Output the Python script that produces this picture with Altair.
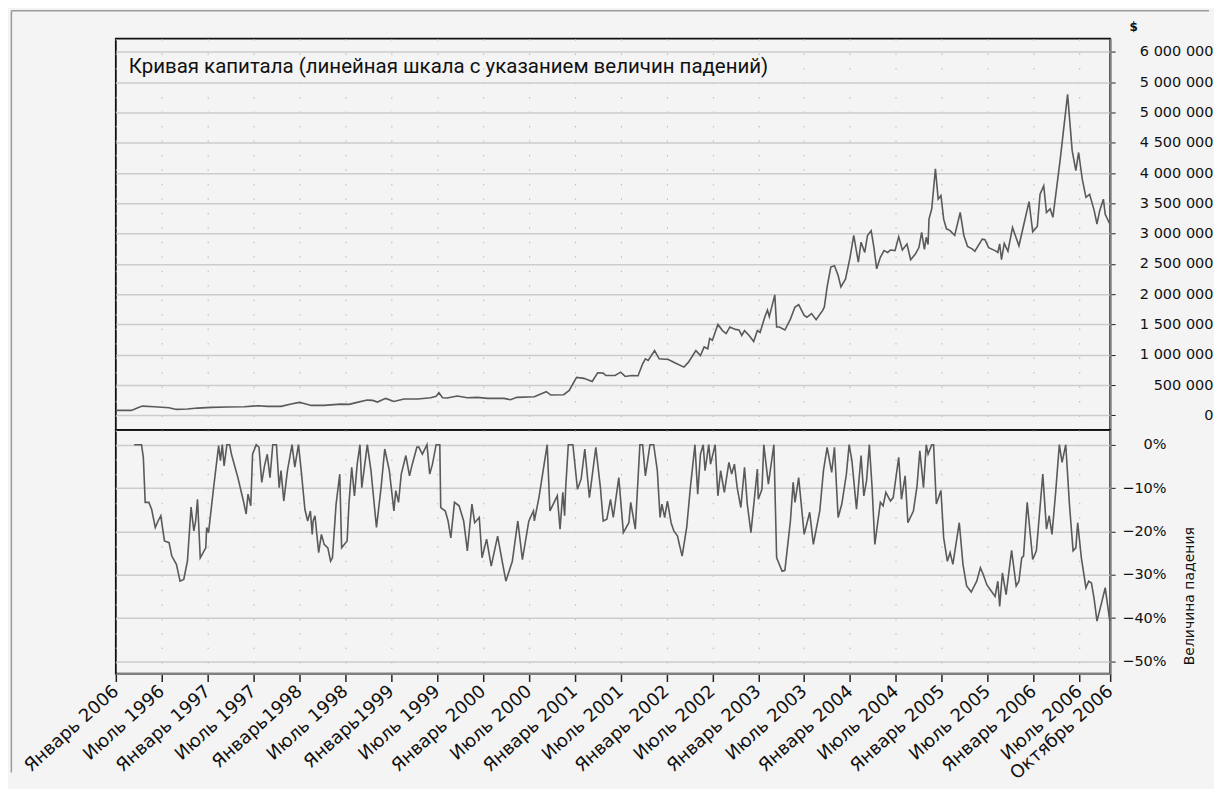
import json
import altair as alt
import pandas as pd

TITLE = "Кривая капитала (линейная шкала с указанием величин падений)"

# Equity curve: decimal year, value in $
eq_year = [1996.00, 1996.17, 1996.24, 1996.29, 1996.42, 1996.58, 1996.66, 1996.78, 1996.89, 1997.04,
           1997.22, 1997.40, 1997.55, 1997.65, 1997.80, 1997.91, 1998.00, 1998.05, 1998.13, 1998.27,
           1998.45, 1998.54, 1998.63, 1998.74, 1998.80, 1998.85, 1998.94, 1999.03, 1999.14, 1999.29,
           1999.43, 1999.49, 1999.52, 1999.56, 1999.61, 1999.72, 1999.83, 1999.94, 2000.05, 2000.23,
           2000.30, 2000.37, 2000.56, 2000.63, 2000.69, 2000.74, 2000.88, 2000.94, 2001.02, 2001.10,
           2001.19, 2001.25, 2001.31, 2001.34, 2001.44, 2001.50, 2001.55, 2001.62, 2001.69, 2001.74,
           2001.77, 2001.80, 2001.87, 2001.92, 2002.02, 2002.09, 2002.19, 2002.24, 2002.32, 2002.37,
           2002.41, 2002.45, 2002.47, 2002.50, 2002.56, 2002.61, 2002.65, 2002.69, 2002.75, 2002.79,
           2002.82, 2002.85, 2002.90, 2002.95, 2002.99, 2003.02, 2003.07, 2003.10, 2003.12, 2003.18,
           2003.20, 2003.23, 2003.29, 2003.35, 2003.40, 2003.44, 2003.50, 2003.53, 2003.58, 2003.63,
           2003.70, 2003.72, 2003.75, 2003.79, 2003.83, 2003.87, 2003.90, 2003.95, 2004.00, 2004.04,
           2004.09, 2004.12, 2004.16, 2004.19, 2004.23, 2004.26, 2004.29, 2004.33, 2004.37, 2004.41,
           2004.44, 2004.49, 2004.53, 2004.57, 2004.62, 2004.66, 2004.71, 2004.75, 2004.78, 2004.81,
           2004.83, 2004.85, 2004.86, 2004.89, 2004.93, 2004.96, 2004.99, 2005.02, 2005.05, 2005.09,
           2005.14, 2005.20, 2005.24, 2005.28, 2005.33, 2005.36, 2005.44, 2005.47, 2005.51, 2005.58,
           2005.61, 2005.63, 2005.65, 2005.68, 2005.72, 2005.77, 2005.84, 2005.89, 2005.95, 2005.99,
           2006.04, 2006.07, 2006.11, 2006.14, 2006.18, 2006.21, 2006.29, 2006.37, 2006.42, 2006.46,
           2006.49, 2006.53, 2006.57, 2006.61, 2006.66, 2006.69, 2006.72, 2006.76, 2006.78, 2006.83]
eq_value = [83000, 83000, 127000, 154000, 143000, 127000, 99000, 105000, 121000, 132000,
            138000, 143000, 160000, 149000, 149000, 187000, 215000, 198000, 165000, 165000,
            187000, 182000, 215000, 253000, 248000, 220000, 281000, 231000, 270000, 270000,
            292000, 314000, 375000, 292000, 287000, 320000, 292000, 298000, 281000, 281000,
            259000, 298000, 309000, 353000, 391000, 336000, 342000, 413000, 628000, 612000,
            560000, 703000, 698000, 659000, 659000, 714000, 643000, 659000, 654000, 852000,
            934000, 907000, 1070000, 934000, 923000, 868000, 797000, 879000, 1070000, 989000,
            1130000, 1100000, 1270000, 1240000, 1500000, 1400000, 1350000, 1460000, 1420000, 1410000,
            1320000, 1400000, 1320000, 1220000, 1400000, 1370000, 1620000, 1740000, 1630000, 1990000,
            1460000, 1460000, 1410000, 1590000, 1790000, 1830000, 1650000, 1620000, 1680000, 1580000,
            1730000, 1790000, 2120000, 2450000, 2470000, 2310000, 2120000, 2250000, 2610000, 2970000,
            2530000, 2860000, 2690000, 2970000, 3050000, 2770000, 2420000, 2610000, 2720000, 2690000,
            2730000, 2720000, 2950000, 2730000, 2830000, 2570000, 2660000, 2770000, 3020000, 2740000,
            2940000, 2820000, 3240000, 3410000, 4070000, 3570000, 3630000, 3240000, 3080000, 3050000,
            2970000, 3350000, 2970000, 2790000, 2750000, 2710000, 2910000, 2900000, 2770000, 2720000,
            2690000, 2830000, 2570000, 2840000, 2710000, 3100000, 2800000, 3130000, 3530000, 3030000,
            3120000, 3650000, 3790000, 3350000, 3410000, 3270000, 4230000, 5300000, 4370000, 4040000,
            4340000, 3900000, 3600000, 3650000, 3380000, 3160000, 3380000, 3570000, 3320000, 3160000]

# Drawdown: decimal year, percent
dd_year = [1996.20, 1996.28, 1996.30, 1996.32, 1996.36, 1996.39, 1996.43, 1996.46, 1996.49, 1996.53,
           1996.58, 1996.61, 1996.66, 1996.70, 1996.74, 1996.78, 1996.82, 1996.85, 1996.87, 1996.89,
           1996.92, 1996.98, 1996.99, 1997.01, 1997.07, 1997.12, 1997.14, 1997.16, 1997.18, 1997.21,
           1997.24, 1997.26, 1997.33, 1997.39, 1997.42, 1997.44, 1997.47, 1997.49, 1997.53, 1997.56,
           1997.59, 1997.62, 1997.65, 1997.68, 1997.71, 1997.75, 1997.78, 1997.80, 1997.83, 1997.87,
           1997.92, 1997.95, 1997.99, 1998.02, 1998.06, 1998.09, 1998.12, 1998.14, 1998.15, 1998.17,
           1998.21, 1998.24, 1998.27, 1998.31, 1998.34, 1998.36, 1998.40, 1998.44, 1998.46, 1998.52,
           1998.54, 1998.57, 1998.60, 1998.63, 1998.66, 1998.68, 1998.74, 1998.78, 1998.84, 1998.89,
           1998.93, 1998.98, 1999.03, 1999.05, 1999.08, 1999.11, 1999.16, 1999.20, 1999.23, 1999.28,
           1999.30, 1999.34, 1999.39, 1999.42, 1999.45, 1999.49, 1999.53, 1999.54, 1999.59, 1999.62,
           1999.65, 1999.69, 1999.74, 1999.79, 1999.83, 1999.88, 1999.91, 1999.96, 1999.99, 2000.04,
           2000.09, 2000.16, 2000.21, 2000.25, 2000.32, 2000.38, 2000.43, 2000.50, 2000.55, 2000.56,
           2000.61, 2000.70, 2000.73, 2000.81, 2000.84, 2000.87, 2000.89, 2000.90, 2000.93, 2000.98,
           2001.03, 2001.07, 2001.11, 2001.16, 2001.23, 2001.28, 2001.31, 2001.35, 2001.39, 2001.42,
           2001.48, 2001.53, 2001.59, 2001.61, 2001.66, 2001.71, 2001.74, 2001.77, 2001.82, 2001.86,
           2001.90, 2001.93, 2001.95, 2001.98, 2002.01, 2002.05, 2002.08, 2002.12, 2002.14, 2002.17,
           2002.22, 2002.26, 2002.31, 2002.34, 2002.37, 2002.40, 2002.42, 2002.46, 2002.48, 2002.53,
           2002.56, 2002.59, 2002.63, 2002.68, 2002.71, 2002.74, 2002.77, 2002.81, 2002.85, 2002.88,
           2002.92, 2002.99, 2003.00, 2003.04, 2003.06, 2003.11, 2003.17, 2003.20, 2003.26, 2003.29,
           2003.35, 2003.38, 2003.40, 2003.44, 2003.50, 2003.56, 2003.60, 2003.67, 2003.71, 2003.75,
           2003.80, 2003.83, 2003.87, 2003.91, 2003.96, 2003.99, 2004.02, 2004.07, 2004.12, 2004.15,
           2004.18, 2004.21, 2004.24, 2004.27, 2004.33, 2004.36, 2004.39, 2004.44, 2004.47, 2004.53,
           2004.56, 2004.60, 2004.63, 2004.69, 2004.73, 2004.76, 2004.80, 2004.83, 2004.85, 2004.89,
           2004.91, 2004.94, 2004.99, 2005.02, 2005.06, 2005.09, 2005.12, 2005.19, 2005.23, 2005.27,
           2005.32, 2005.38, 2005.42, 2005.45, 2005.49, 2005.54, 2005.58, 2005.61, 2005.63, 2005.66,
           2005.70, 2005.76, 2005.81, 2005.84, 2005.87, 2005.89, 2005.93, 2005.99, 2006.03, 2006.10,
           2006.14, 2006.17, 2006.20, 2006.24, 2006.28, 2006.31, 2006.35, 2006.39, 2006.43, 2006.46,
           2006.48, 2006.52, 2006.57, 2006.60, 2006.63, 2006.66, 2006.69, 2006.74, 2006.78, 2006.83]
dd_pct = [0, 0, -3, -13.3, -13.3, -14.9, -19.1, -17.6, -16.4, -22.2,
          -22.6, -25.7, -27.6, -31.5, -31.1, -26.9, -14.4, -19.9, -17.6, -12.6,
          -26.1, -23.8, -19.1, -20.3, -9.1, -0.2, -3.7, 0, -4.9, 0,
          0, -2.2, -7.6, -13, -16, -11.4, -14.1, -2.2, 0, -0.6,
          -8.7, -4.9, -2.2, -7.6, 0, 0, -9.9, -6, -13, -6,
          0, -5.2, 0, -6, -14.9, -17.6, -15.3, -20.7, -17.6, -16.4,
          -24.9, -20.7, -23, -23.8, -26.9, -26.1, -13.7, -6.8, -23.8, -22.2,
          -13.7, -5.2, -11.8, -4.5, 0, -9.9, 0, -6, -19.1, -9.9,
          -1, -6, -15.3, -10.6, -13.3, -6.8, -2.5, -7.2, -4.5, -0.6,
          -0.5, -2.2, 0, -6.8, -4.5, 0, 0, -14.5, -15.3, -17.6,
          -21.5, -13.3, -14.1, -17.6, -24.5, -13.7, -18, -16.8, -26.1, -21.8,
          -28, -21.1, -26.9, -31.5, -26.9, -17.6, -26.5, -17.6, -15.3, -17.6,
          -12.2, 0, -15.3, -11.8, -19.5, -11, -16.4, -10.6, 0, 0,
          -10.3, -7.9, -1, -12.2, -0.6, -9.9, -17.6, -17.2, -12.6, -16.8,
          -7.6, -20.3, -18, -13.3, -19.5, 0, 0, -7.2, 0, 0,
          -6, -16.8, -13.7, -16.8, -13, -18, -19.9, -21.1, -23, -25.7,
          -19.1, -9.9, 0, -11.4, -2.2, 0, -6, 0, -4.5, 0,
          -11.8, -6, -11, -4.1, -6.8, -4.5, -9.9, -14.5, -5.2, -13.7,
          -20.3, -5.6, -12.6, -10.3, 0, -9.1, 0, -26.1, -29.2, -29,
          -17.6, -8.7, -13.3, -7.6, -20.7, -15.6, -23, -15.3, -6, -0.6,
          -6.4, -0.6, -16.8, -13.7, -6.8, 0, -3.7, -14.9, -2.5, -11.8,
          -8.3, 0, -9.9, -23, -13.3, -14.1, -11, -13, -12.2, -2.9,
          -12.6, -7.2, -18, -15.3, -9.5, -1.4, -9.9, 0, -2.2, 0,
          0, -13.7, -10.6, -21.5, -26.9, -24.9, -27.6, -18, -27.6, -32.6,
          -34, -31.5, -28.4, -29.9, -32.3, -33.8, -35, -31.5, -37.3, -29.6,
          -34.6, -24.4, -32.6, -31.5, -26.1, -25.7, -13.3, -26.5, -24.5, -6.8,
          -19.5, -16.4, -20.7, -11, 0, -4.1, 0, -13.7, -24.5, -23.8,
          -18, -26.1, -33, -31.5, -31.9, -35.7, -40.7, -36.5, -33, -40.7]

x_ticks = [1996.0, 1996.5, 1997.0, 1997.5, 1998.0, 1998.5, 1999.0, 1999.5, 2000.0, 2000.5,
           2001.0, 2001.5, 2002.0, 2002.5, 2003.0, 2003.5, 2004.0, 2004.5, 2005.0, 2005.5,
           2006.0, 2006.5, 2006.834]
x_labels = ["Январь 2006", "Июль 1996", "Январь 1997", "Июль 1997", "Январь1998", "Июль 1998",
            "Январь1999", "Июль 1999", "Январь 2000", "Июль 2000", "Январь 2001", "Июль 2001",
            "Январь 2002", "Июль 2002", "Январь 2003", "Июль 2003", "Январь 2004", "Июль 2004",
            "Январь 2005", "Июль 2005", "Январь 2006", "Июль 2006", "Октябрь 2006"]

eq_ticks = [0, 500000, 1000000, 1500000, 2000000, 2500000, 3000000, 3500000, 4000000,
            4500000, 5000000, 5500000, 6000000]
eq_labels = ["0", "500 000", "1 000 000", "1 500 000", "2 000 000", "2 500 000", "3 000 000",
             "3 500 000", "4 000 000", "4 500 000", "5 000 000", "5 000 000", "6 000 000"]

dd_ticks = [0, -10, -20, -30, -40, -50]
dd_labels = ["0%", "\u221210%", "\u221220%", "\u221230%", "\u221240%", "\u221250%"]

eq_df = pd.DataFrame({"year": eq_year, "value": eq_value})
dd_df = pd.DataFrame({"year": dd_year, "pct": dd_pct})
title_df = pd.DataFrame({"t": [TITLE]})

W = 996
X_DOMAIN = [1996.0, 2006.834]
LINE_COLOR = "#5a5a5a"
FONT = "DejaVu Sans"

x_lab_expr = json.dumps(x_labels, ensure_ascii=False) + "[round((datum.value-1996)*2)]"
eq_lab_expr = json.dumps(eq_labels, ensure_ascii=False) + "[round(datum.value/500000)]"
dd_lab_expr = json.dumps(dd_labels, ensure_ascii=False) + "[round(-datum.value/10)]"

x_scale = alt.Scale(domain=X_DOMAIN, nice=False, zero=False)

top_x = alt.X("year:Q", scale=x_scale,
              axis=alt.Axis(values=x_ticks, labels=False, ticks=False, domain=False, title=None,
                            grid=True, gridColor="#b8b8b8", gridDash=[1.5, 13], gridWidth=1))

top_line = alt.Chart(eq_df).mark_line(color=LINE_COLOR, strokeWidth=1.6).encode(
    x=top_x,
    y=alt.Y("value:Q", scale=alt.Scale(domain=[-240000, 6220000], nice=False, zero=False),
            axis=alt.Axis(orient="right", values=eq_ticks, labelExpr=eq_lab_expr,
                          labelAlign="right", labelPadding=98, labelFont=FONT, labelFontSize=14.5,
                          labelColor="#111", tickSize=5, tickColor="#222",
                          domainColor="#808080", domainWidth=2,
                          grid=True, gridColor="#cccccc", gridWidth=1.5,
                          title="$", titleAngle=0, titleX=23, titleY=-8, titleAlign="center",
                          titleBaseline="alphabetic", titleFont=FONT, titleFontSize=12,
                          titleFontWeight="bold", titleColor="#111")),
)

top_title = alt.Chart(title_df).mark_text(align="left", baseline="middle", font="Roboto",
                                          fontSize=20.5, color="#111").encode(
    x=alt.value(13), y=alt.value(28), text="t:N")

# outer frame (decorative border around the whole figure)
frame_left = alt.Chart(title_df).mark_rule(color="#9a9a9a", strokeWidth=1.5).encode(
    x=alt.value(-104.6), y=alt.value(-28), y2=alt.value(735))
frame_top = alt.Chart(title_df).mark_rule(color="#9a9a9a", strokeWidth=1.5).encode(
    x=alt.value(-104.6), x2=alt.value(1095), y=alt.value(-28))

top = alt.layer(frame_left, frame_top, top_line, top_title).properties(width=W, height=392)

bottom = alt.Chart(dd_df).mark_line(color=LINE_COLOR, strokeWidth=1.6).encode(
    x=alt.X("year:Q", scale=x_scale,
            axis=alt.Axis(values=x_ticks, labelExpr=x_lab_expr, labelAngle=318, labelAlign="right",
                          labelBaseline="middle", labelPadding=7, labelFlush=False,
                          labelOverlap=False, labelFont=FONT, labelFontSize=18, labelColor="#111",
                          tickSize=8, tickColor="#222", tickWidth=1.5,
                          domainColor="#808080", domainWidth=2, title=None,
                          grid=True, gridColor="#b8b8b8", gridDash=[1.5, 13], gridWidth=1)),
    y=alt.Y("pct:Q", scale=alt.Scale(domain=[-52.8, 3.4], nice=False, zero=False),
            axis=alt.Axis(orient="right", values=dd_ticks, labelExpr=dd_lab_expr,
                          labelAlign="right", labelPadding=51, labelFont=FONT, labelFontSize=14.5,
                          labelColor="#111", tickSize=5, tickColor="#222",
                          domainColor="#808080", domainWidth=2,
                          grid=True, gridColor="#cccccc", gridWidth=1.5,
                          title="Величина падения", titleAngle=270, titleX=79, titleY=166,
                          titleAlign="center", titleBaseline="middle", titleFont=FONT,
                          titleFontSize=14, titleFontWeight="normal", titleColor="#111")),
).properties(width=W, height=244)

chart = alt.vconcat(top, bottom, spacing=0, bounds="flush").properties(
    background="#f4f4f4",
    padding={"left": 1, "top": 0, "right": 0, "bottom": 4},
).configure_view(stroke="#111", strokeWidth=1.8)

chart.save("out.html", embed_options={"renderer": "svg", "actions": False})
